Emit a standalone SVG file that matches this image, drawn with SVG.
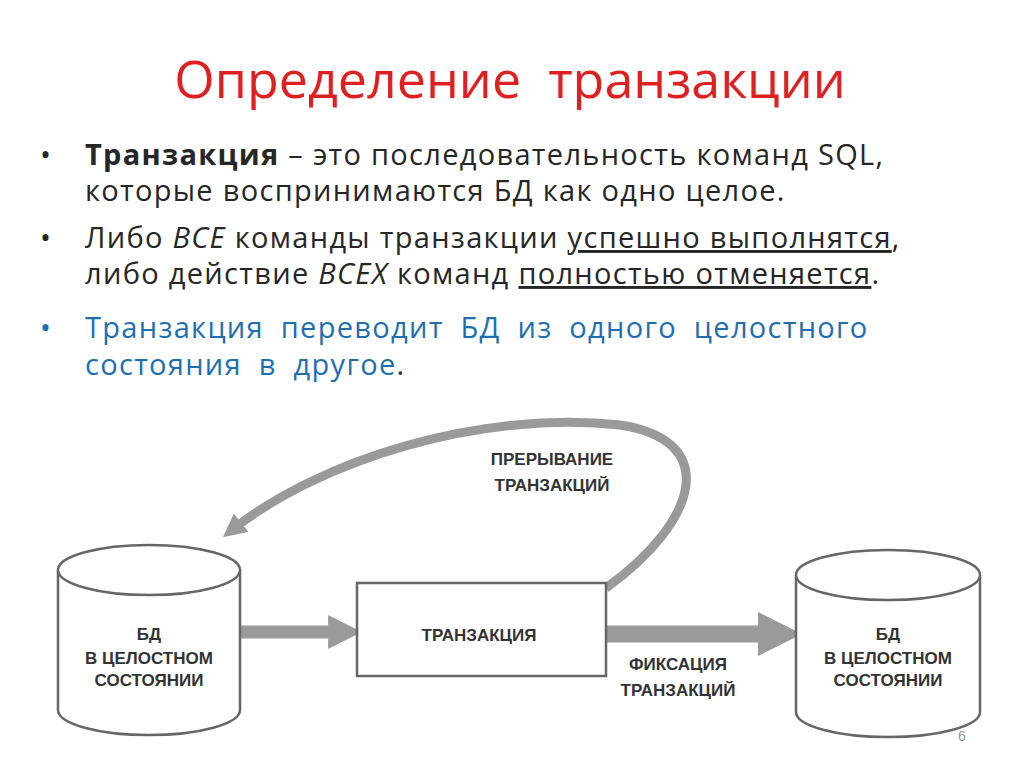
<svg xmlns="http://www.w3.org/2000/svg" width="1024" height="767" viewBox="0 0 1024 767">
<style>
.t{font-family:"Open Sans","Liberation Sans",sans-serif;font-size:29px;fill:#262626;letter-spacing:1.3px}
.b{font-family:"Liberation Sans",sans-serif;font-weight:bold;fill:#333;text-anchor:middle;font-size:17px}
.cyl{fill:#fff;stroke:#666;stroke-width:2.5}
</style>
<defs>
<marker id="ah" markerWidth="2.6" markerHeight="2.6" refX="1.3" refY="1.3" orient="auto" markerUnits="strokeWidth"><path d="M0,0 L2.6,1.3 L0,2.6 z" fill="#9a9a9a"/></marker>
</defs>
<rect width="1024" height="767" fill="#fff"/>
<text x="510" y="98" text-anchor="middle" font-family="Open Sans, Liberation Sans, sans-serif" font-size="52" fill="#e02020" xml:space="preserve">Определение  транзакции</text>
<g class="t">
<text x="40" y="165">•</text><text x="85" y="165"><tspan font-weight="bold">Транзакция</tspan> – это последовательность команд SQL,</text>
<text x="85" y="201">которые воспринимаются БД как одно целое.</text>
<text x="40" y="248">•</text><text x="85" y="248">Либо <tspan font-style="italic">ВСЕ</tspan> команды транзакции <tspan text-decoration="underline">успешно выполнятся</tspan>,</text>
<text x="85" y="284">либо действие <tspan font-style="italic">ВСЕХ</tspan> команд <tspan text-decoration="underline">полностью отменяется</tspan>.</text>
<text x="40" y="338" fill="#1f6fb0">•</text><text x="85" y="338" fill="#1f6fb0" word-spacing="8">Транзакция переводит БД из одного целостного</text>
<text x="85" y="375" fill="#1f6fb0" word-spacing="8">состояния в другое<tspan fill="#262626">.</tspan></text>
</g>
<g id="connectors" fill="none" stroke="#9a9a9a">
<path d="M240,632 H345" stroke-width="13" marker-end="url(#ah)"/>
<path d="M606,634 H780" stroke-width="17" marker-end="url(#ah)"/>
<path d="M606,588 C700,520 720,440 620,425 C480,410 320,460 232,530" stroke-width="9" marker-end="url(#ah)"/>
</g>
<g id="db1">
<path class="cyl" d="M58,570 V710 A91,25 0 0 0 240,710 V570"/>
<ellipse class="cyl" cx="149" cy="570" rx="91" ry="25"/>
<text class="b" x="149" y="640" font-size="18">БД</text>
<text class="b" x="149" y="664" font-size="16">В ЦЕЛОСТНОМ</text>
<text class="b" x="149" y="686" font-size="16">СОСТОЯНИИ</text>
</g>
<g id="tx">
<rect x="357" y="583" width="249" height="93" fill="#fff" stroke="#666" stroke-width="2.5"/>
<text class="b" x="479" y="641" font-size="26">ТРАНЗАКЦИЯ</text>
</g>
<g id="db2">
<path class="cyl" d="M796,575 V712 A92,25 0 0 0 980,712 V575"/>
<ellipse class="cyl" cx="888" cy="575" rx="92" ry="25"/>
<text class="b" x="888" y="640" font-size="18">БД</text>
<text class="b" x="888" y="664" font-size="16">В ЦЕЛОСТНОМ</text>
<text class="b" x="888" y="686" font-size="16">СОСТОЯНИИ</text>
</g>
<g id="labels">
<text class="b" x="552" y="465" font-size="17" fill="#444">ПРЕРЫВАНИЕ</text>
<text class="b" x="552" y="491" font-size="17" fill="#444">ТРАНЗАКЦИЙ</text>
<text class="b" x="678" y="670" font-size="17" fill="#444">ФИКСАЦИЯ</text>
<text class="b" x="678" y="696" font-size="17" fill="#444">ТРАНЗАКЦИЙ</text>
</g>
<text x="958" y="741" font-family="Liberation Sans, sans-serif" font-size="14" fill="#999">6</text>
</svg>
